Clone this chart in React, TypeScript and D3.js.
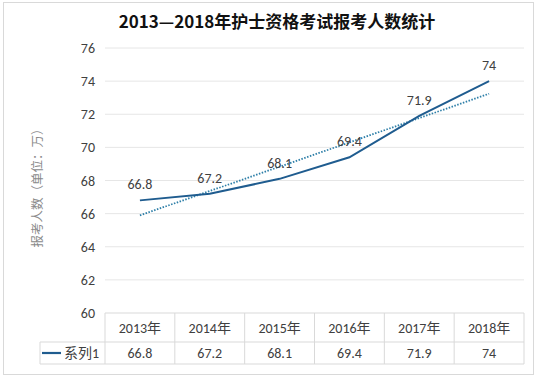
import React from "react";
import * as d3 from "d3";

const categories = ["2013年", "2014年", "2015年", "2016年", "2017年", "2018年"];
const values = [66.8, 67.2, 68.1, 69.4, 71.9, 74];
const yTicks = [60, 62, 64, 66, 68, 70, 72, 74, 76];
const seriesName = "系列1";
const title = "2013—2018年护士资格考试报考人数统计";
const yLabel = "报考人数（单位：万）";

const W = 537, H = 378;
const plotL = 105, plotR = 524, plotT = 48, plotB = 313;
const rowMid = 342, rowBot = 364, legendL = 40;
const lineColor = "#1f5c8f";
const trendColor = "#2e7fa8";
const font = "Calibri, Carlito, 'Liberation Sans', 'Noto Sans CJK SC', sans-serif";

export default function App() {
  const x = d3.scaleBand<string>().domain(categories).range([plotL, plotR]);
  const cx = (c: string) => (x(c) as number) + x.bandwidth() / 2;
  const y = d3.scaleLinear().domain([60, 76]).range([plotB, plotT]);

  const line = d3.line<number>().x((_, i) => cx(categories[i])).y((d) => y(d));

  // linear trendline (least squares over index 1..n)
  const idx = values.map((_, i) => i + 1);
  const mx = d3.mean(idx) as number;
  const my = d3.mean(values) as number;
  const slope =
    (d3.sum(idx, (xi, i) => (xi - mx) * (values[i] - my)) as number) /
    (d3.sum(idx, (xi) => (xi - mx) ** 2) as number);
  const trend = idx.map((xi) => my + slope * (xi - mx));

  const edges = categories.map((c) => x(c) as number).concat([plotR]);

  return (
    <svg width={W} height={H} style={{ position: "absolute", left: 0, top: 0, background: "#fff" }}>
      <rect x={3.5} y={2.5} width={530} height={372} fill="#fff" stroke="#d9d9d9" />
      <text x={277} y={28} textAnchor="middle" fontSize={17} fontWeight="bold" fill="#111"
        fontFamily="'Noto Sans CJK SC', sans-serif">{title}</text>

      {yTicks.map((t) => (
        <g key={t}>
          {t !== 60 && <line x1={plotL} x2={plotR} y1={y(t)} y2={y(t)} stroke="#e6e6e6" />}
          <text x={95} y={y(t) + 5} textAnchor="end" fontSize={14} fill="#404040" fontFamily={font}>{t}</text>
        </g>
      ))}

      <text transform={`translate(42,${185}) rotate(-90)`} textAnchor="middle" fontSize={12.5}
        fill="#8a8a8a" fontFamily="'Noto Sans CJK SC', serif">{yLabel}</text>

      {/* data table */}
      <g stroke="#d9d9d9" fill="none">
        <line x1={plotL} x2={plotR} y1={plotB} y2={plotB} />
        <line x1={legendL} x2={plotR} y1={rowMid} y2={rowMid} />
        <line x1={legendL} x2={plotR} y1={rowBot} y2={rowBot} />
        <line x1={legendL} x2={legendL} y1={rowMid} y2={rowBot} />
        {edges.map((e, i) => (
          <line key={i} x1={e} x2={e} y1={plotB} y2={rowBot} />
        ))}
      </g>
      {categories.map((c, i) => (
        <g key={c}>
          <text x={cx(c)} y={333} textAnchor="middle" fontSize={14} fill="#404040" fontFamily={font}>{c}</text>
          <text x={cx(c)} y={358} textAnchor="middle" fontSize={14} fill="#404040" fontFamily={font}>{values[i]}</text>
        </g>
      ))}
      <line x1={42} x2={61} y1={353} y2={353} stroke={lineColor} strokeWidth={2.2} />
      <text x={64} y={358} fontSize={14} fill="#404040" fontFamily={font}>{seriesName}</text>

      <path d={line(trend) as string} fill="none" stroke={trendColor} strokeWidth={1.8} strokeDasharray="1.5,1.5" />
      <path d={line(values) as string} fill="none" stroke={lineColor} strokeWidth={2} />

      {values.map((v, i) => (
        <text key={i} x={cx(categories[i])} y={y(v) - 11} textAnchor="middle" fontSize={14}
          fill="#404040" fontFamily={font}>{v}</text>
      ))}
    </svg>
  );
}
